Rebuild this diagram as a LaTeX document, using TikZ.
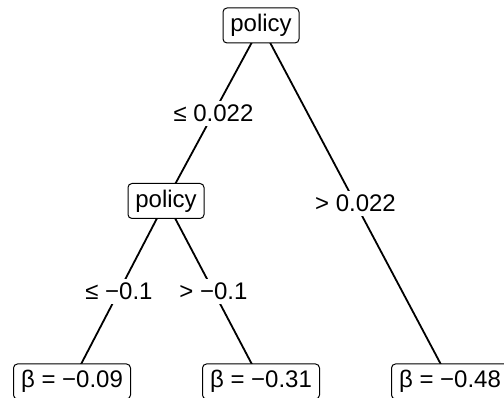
\documentclass[tikz,border=0pt]{standalone}
\usepackage{fontspec}
\setmainfont{Liberation Sans}
\begin{document}
\begin{tikzpicture}[x=1pt,y=-1pt,
  every node/.style={font=\fontsize{24}{28}\selectfont},
  inner/.style={draw=black, line width=1pt, rounded corners=4pt, fill=white,
    minimum width=76pt, minimum height=35pt, inner sep=0pt},
  leaf/.style={draw=black, line width=1pt, rounded corners=4pt, fill=white,
    minimum width=117pt, minimum height=35pt, inner sep=0pt},
  elabel/.style={fill=white, inner xsep=2pt, inner ysep=4pt},
  edge/.style={line width=1.8pt, black}]
\useasboundingbox (0,0) rectangle (504,398);
\clip (0,0) rectangle (504,398);
\coordinate (c1) at (261,25.5);
\coordinate (c2) at (166,201);
\coordinate (c3) at (72,381.5);
\coordinate (c4) at (261,381.5);
\coordinate (c5) at (450,381.5);
\draw[edge] (c1) -- (c2) node[midway, elabel] (l12) {≤ 0.022};
\draw[edge] (c1) -- (c5) node[midway, elabel] (l15) {> 0.022};
\draw[edge] (c2) -- (c3) node[midway, elabel] (l23) {≤ −0.1};
\draw[edge] (c2) -- (c4) node[midway, elabel] (l24) {> −0.1};
\node[inner] (n1) at (c1) {policy};
\node[inner] (n2) at (c2) {policy};
\node[leaf] (n3) at (c3) {β = −0.09};
\node[leaf] (n4) at (c4) {β = −0.31};
\node[leaf] (n5) at (c5) {β = −0.48};
\end{tikzpicture}
\end{document}
